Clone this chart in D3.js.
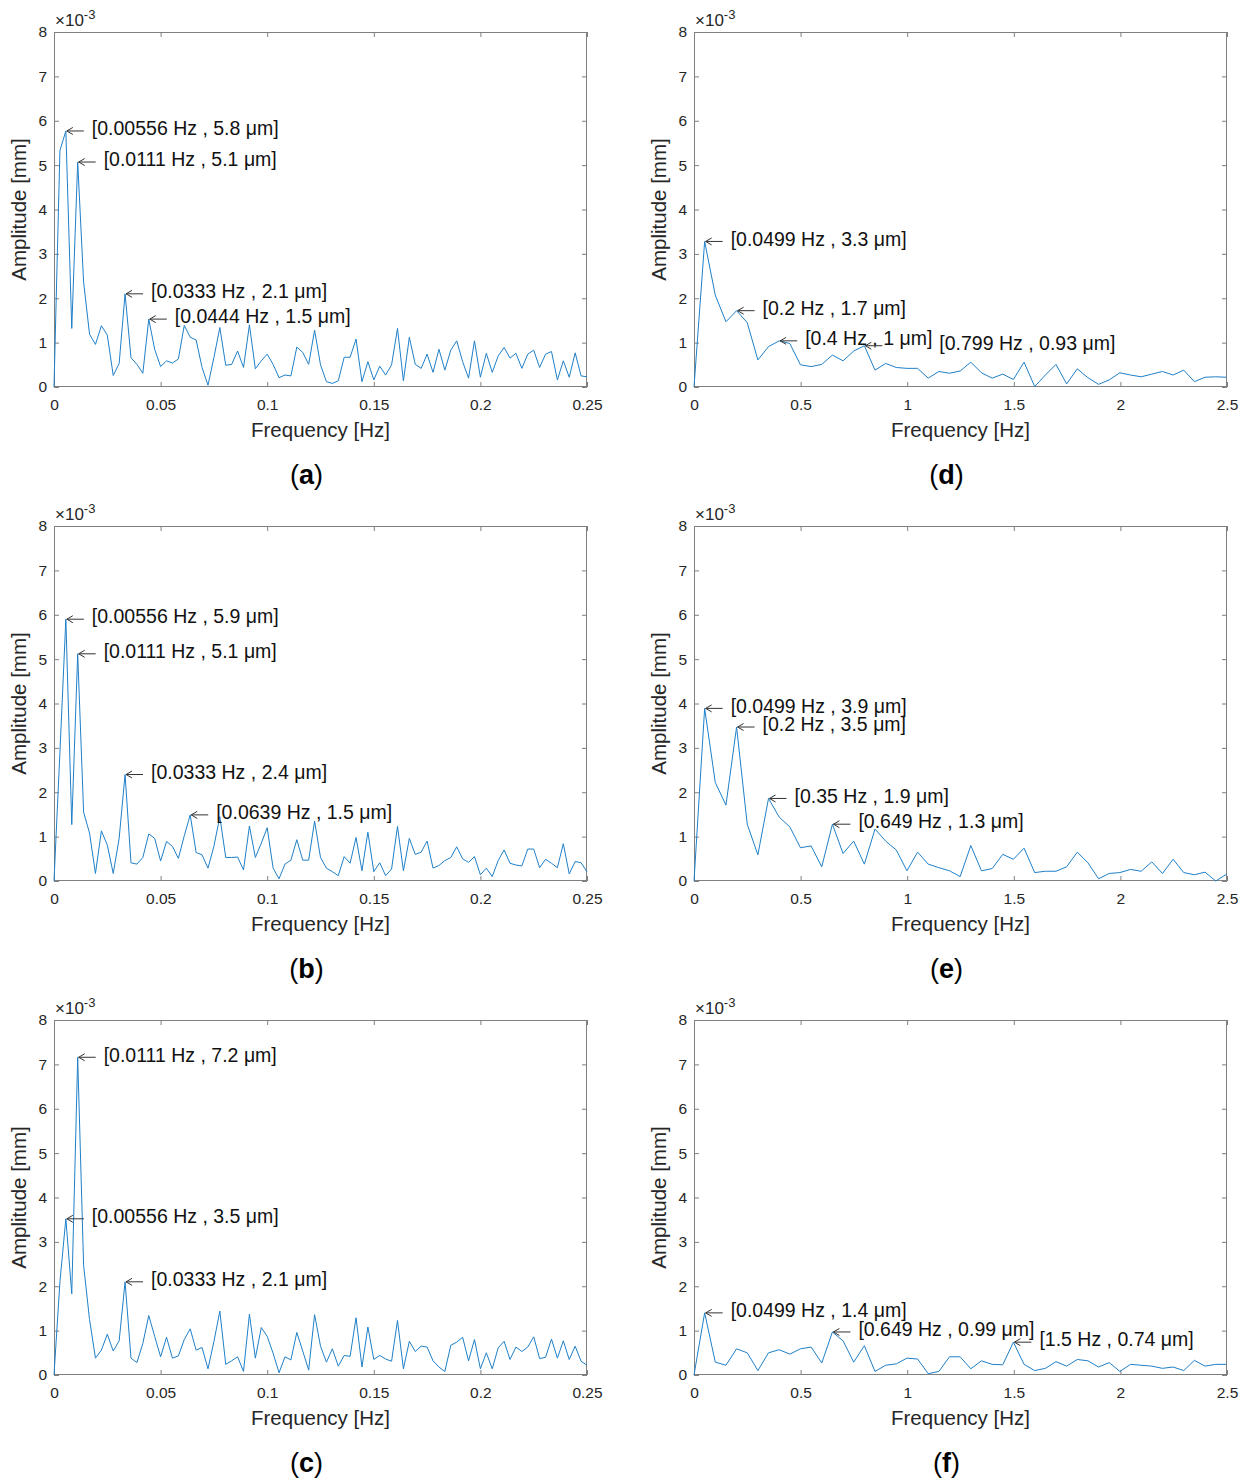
<!DOCTYPE html>
<html>
<head>
<meta charset="utf-8">
<style>
body { margin: 0; background-color: #FFFFFF; }
svg text { font-family: "Liberation Sans", Arial, sans-serif; }
.axis .domain { display: none; }
.axis line { stroke: #808080; }
.axis text { fill: #262626; font-size: 15.5px; }
</style>
</head>
<body>
<svg width="1246" height="1479"></svg>
<script src="https://d3js.org/d3.v7.min.js"></script>
<script>

// bin widths of the two spectra [Hz]
var dfSlow = 0.0027778,
    dfFast = 0.049938;

// amplitudes, in 1e-3 mm (i.e. um), one value per frequency bin
var ampA = [0, 5.33, 5.77, 1.32, 5.07, 2.36, 1.19, 0.96, 1.38, 1.17, 0.26, 0.53, 2.1, 0.66, 0.51, 0.31,
  1.53, 0.85, 0.46, 0.59, 0.54, 0.63, 1.39, 1.12, 1.06, 0.44, 0.04, 0.66, 1.34, 0.49, 0.51, 0.81,
  0.44, 1.40, 0.41, 0.59, 0.74, 0.51, 0.21, 0.27, 0.25, 0.9, 0.78, 0.51, 1.28, 0.5, 0.12, 0.08,
  0.14, 0.67, 0.67, 1.08, 0.12, 0.57, 0.16, 0.47, 0.27, 0.5, 1.32, 0.14, 1.12, 0.51, 0.42, 0.74,
  0.33, 0.85, 0.38, 0.83, 1.04, 0.57, 0.2, 1.04, 0.22, 0.76, 0.33, 0.7, 0.89, 0.65, 0.76, 0.42,
  0.74, 0.83, 0.44, 0.74, 0.8, 0.16, 0.59, 0.22, 0.77, 0.25, 0.23];

var ampB = [0, 2.9, 5.9, 1.27, 5.12, 1.55, 1.08, 0.17, 1.13, 0.81, 0.17, 0.96, 2.4, 0.41, 0.38, 0.53,
  1.06, 0.96, 0.45, 0.89, 0.78, 0.51, 1.02, 1.49, 0.64, 0.59, 0.29, 0.78, 1.45, 0.53, 0.53, 0.54,
  0.25, 1.24, 0.53, 0.85, 1.2, 0.29, 0.05, 0.38, 0.47, 0.93, 0.47, 0.47, 1.35, 0.53, 0.29, 0.21,
  0.12, 0.55, 0.4, 0.98, 0.23, 1.1, 0.21, 0.41, 0.12, 0.27, 1.23, 0.23, 0.96, 0.6, 0.65, 0.9,
  0.29, 0.35, 0.46, 0.53, 0.77, 0.5, 0.42, 0.55, 0.14, 0.29, 0.1, 0.46, 0.7, 0.4, 0.36, 0.34,
  0.72, 0.72, 0.3, 0.49, 0.4, 0.3, 0.84, 0.16, 0.44, 0.41, 0.21];

var ampC = [0, 2.1, 3.52, 1.83, 7.16, 2.47, 1.25, 0.38, 0.56, 0.92, 0.54, 0.77, 2.1, 0.38, 0.28, 0.71,
  1.34, 0.87, 0.41, 0.85, 0.38, 0.43, 0.8, 1.04, 0.56, 0.62, 0.14, 0.75, 1.44, 0.24, 0.32, 0.41,
  0.08, 1.37, 0.38, 1.07, 0.87, 0.49, 0.05, 0.41, 0.34, 0.96, 0.54, 0.11, 1.36, 0.65, 0.29, 0.59,
  0.2, 0.44, 0.42, 1.29, 0.18, 1.08, 0.35, 0.44, 0.36, 0.31, 1.23, 0.14, 0.76, 0.53, 0.65, 0.63,
  0.32, 0.18, 0.08, 0.67, 0.74, 0.85, 0.32, 0.8, 0.14, 0.5, 0.14, 0.61, 0.76, 0.35, 0.63, 0.53,
  0.63, 0.86, 0.37, 0.4, 0.81, 0.38, 0.77, 0.35, 0.65, 0.31, 0.22];

var ampD = [0, 3.28, 2.07, 1.47, 1.72, 1.45, 0.61, 0.91, 1.04, 0.98, 0.5, 0.46, 0.51, 0.72, 0.59, 0.81,
  0.93, 0.38, 0.53, 0.44, 0.42, 0.42, 0.2, 0.35, 0.31, 0.36, 0.56, 0.32, 0.2, 0.29, 0.17, 0.56,
  0.01, 0.27, 0.51, 0.07, 0.41, 0.21, 0.06, 0.16, 0.32, 0.27, 0.23, 0.29, 0.35, 0.27, 0.38, 0.12,
  0.22, 0.23, 0.22];

var ampE = [0, 3.89, 2.22, 1.71, 3.47, 1.28, 0.59, 1.86, 1.44, 1.22, 0.75, 0.79, 0.32, 1.28, 0.62, 0.9,
  0.38, 1.17, 0.9, 0.7, 0.23, 0.65, 0.38, 0.3, 0.23, 0.1, 0.8, 0.23, 0.28, 0.6, 0.49, 0.74,
  0.19, 0.22, 0.22, 0.32, 0.65, 0.41, 0.05, 0.17, 0.19, 0.26, 0.22, 0.43, 0.17, 0.49, 0.19, 0.14,
  0.2, 0.0, 0.15];

var ampF = [0, 1.4, 0.29, 0.22, 0.59, 0.5, 0.1, 0.5, 0.57, 0.47, 0.59, 0.63, 0.27, 0.97, 0.77, 0.29,
  0.66, 0.08, 0.22, 0.25, 0.38, 0.36, 0.03, 0.08, 0.41, 0.41, 0.14, 0.32, 0.24, 0.23, 0.74, 0.24,
  0.1, 0.15, 0.3, 0.2, 0.35, 0.32, 0.18, 0.28, 0.08, 0.24, 0.22, 0.2, 0.15, 0.18, 0.1, 0.33,
  0.2, 0.24, 0.24];

// tick labels
var xTicksSlow = [0, 0.05, 0.1, 0.15, 0.2, 0.25],
    xTicksFast = [0, 0.5, 1, 1.5, 2, 2.5],
    yTicks = [0, 1, 2, 3, 4, 5, 6, 7, 8];

// data tips: bin index + label
var notesA = [{i: 2, t: "[0.00556 Hz , 5.8 μm]"}, {i: 4, t: "[0.0111 Hz , 5.1 μm]"},
              {i: 12, t: "[0.0333 Hz , 2.1 μm]"}, {i: 16, t: "[0.0444 Hz , 1.5 μm]"}];
var notesB = [{i: 2, t: "[0.00556 Hz , 5.9 μm]"}, {i: 4, t: "[0.0111 Hz , 5.1 μm]"},
              {i: 12, t: "[0.0333 Hz , 2.4 μm]"}, {i: 23, t: "[0.0639 Hz , 1.5 μm]"}];
var notesC = [{i: 4, t: "[0.0111 Hz , 7.2 μm]"}, {i: 2, t: "[0.00556 Hz , 3.5 μm]"},
              {i: 12, t: "[0.0333 Hz , 2.1 μm]"}];
var notesD = [{i: 1, t: "[0.0499 Hz , 3.3 μm]"}, {i: 4, t: "[0.2 Hz , 1.7 μm]"},
              {i: 8, t: "[0.4 Hz , 1 μm]"}, {i: 16, t: "[0.799 Hz , 0.93 μm]"}];
var notesE = [{i: 1, t: "[0.0499 Hz , 3.9 μm]"}, {i: 4, t: "[0.2 Hz , 3.5 μm]"},
              {i: 7, t: "[0.35 Hz , 1.9 μm]"}, {i: 13, t: "[0.649 Hz , 1.3 μm]"}];
var notesF = [{i: 1, t: "[0.0499 Hz , 1.4 μm]"}, {i: 13, t: "[0.649 Hz , 0.99 μm]"},
              {i: 30, t: "[1.5 Hz , 0.74 μm]"}];

var svg = d3.select("svg"),
    width = 533,
    height = 355,
    colX = [54, 694],
    rowY = [32, 526, 1020];

var panels = [
  {id: "a", amp: ampA, df: dfSlow, ticks: xTicksSlow, notes: notesA, c: 0, r: 0},
  {id: "b", amp: ampB, df: dfSlow, ticks: xTicksSlow, notes: notesB, c: 0, r: 1},
  {id: "c", amp: ampC, df: dfSlow, ticks: xTicksSlow, notes: notesC, c: 0, r: 2},
  {id: "d", amp: ampD, df: dfFast, ticks: xTicksFast, notes: notesD, c: 1, r: 0},
  {id: "e", amp: ampE, df: dfFast, ticks: xTicksFast, notes: notesE, c: 1, r: 1},
  {id: "f", amp: ampF, df: dfFast, ticks: xTicksFast, notes: notesF, c: 1, r: 2}
];

// the 0.799 Hz tip in (d) sits further from its arrow
var extraGap = {"[0.799 Hz , 0.93 μm]": 49};

panels.forEach(function(p) {
  var g = svg.append("g").attr("transform", "translate(" + colX[p.c] + "," + rowY[p.r] + ")");

  var x = d3.scaleLinear().domain([0, p.ticks[p.ticks.length - 1]]).range([0, width]);
  var y = d3.scaleLinear().domain([0, 8]).range([height, 0]);
  var fmt = function(d) { return String(d); };

  g.append("g")
      .attr("class", "axis")
      .attr("transform", "translate(0," + height + ")")
      .call(d3.axisBottom(x).tickValues(p.ticks).tickFormat(fmt).tickSizeInner(-5).tickSizeOuter(0).tickPadding(12));

  g.append("g")
      .attr("class", "axis")
      .call(d3.axisTop(x).tickValues(p.ticks).tickFormat("").tickSizeInner(-5).tickSizeOuter(0));

  g.append("g")
      .attr("class", "axis")
      .call(d3.axisLeft(y).tickValues(yTicks).tickFormat(fmt).tickSizeInner(-5).tickSizeOuter(0).tickPadding(7));

  g.append("g")
      .attr("class", "axis")
      .attr("transform", "translate(" + width + ",0)")
      .call(d3.axisRight(y).tickValues(yTicks).tickFormat("").tickSizeInner(-5).tickSizeOuter(0));

  g.selectAll(".axis text").attr("font-family", "Liberation Sans, Arial, sans-serif");

  g.append("rect")
      .attr("x", 0.5)
      .attr("y", 0.5)
      .attr("width", width - 1)
      .attr("height", height - 1)
      .attr("fill", "none")
      .attr("stroke", "#808080");

  // spectrum
  var line = d3.line()
      .x(function(d, i) { return x(i * p.df); })
      .y(function(d) { return y(d); });

  g.append("path")
      .datum(p.amp)
      .attr("fill", "none")
      .attr("stroke", "#1f80c8")
      .attr("stroke-width", 1)
      .attr("stroke-linejoin", "round")
      .attr("d", line);

  // x10^-3 multiplier
  var mult = g.append("text")
      .attr("x", 1)
      .attr("y", -6)
      .attr("fill", "#262626")
      .attr("font-size", "17px");
  mult.append("tspan").text("×10");
  mult.append("tspan").attr("font-size", "13px").attr("dy", -7).text("-3");

  // axis titles
  g.append("text")
      .attr("transform", "translate(-28," + (height / 2) + ") rotate(-90)")
      .attr("text-anchor", "middle")
      .attr("fill", "#262626")
      .attr("font-size", "20.5px")
      .text("Amplitude [mm]");

  g.append("text")
      .attr("x", width / 2)
      .attr("y", height + 50)
      .attr("text-anchor", "middle")
      .attr("fill", "#262626")
      .attr("font-size", "20.5px")
      .text("Frequency [Hz]");

  // data tips
  p.notes.forEach(function(n) {
    var px = x(n.i * p.df), py = y(p.amp[n.i]);
    var tx = px + 1;
    g.append("path")
        .attr("d", "M" + tx + "," + py + "h17M" + (tx + 6) + "," + (py - 3.5) + "L" + tx + "," + py + "L" + (tx + 6) + "," + (py + 3.5))
        .attr("fill", "none")
        .attr("stroke", "#333")
        .attr("stroke-width", 1);
    g.append("text")
        .attr("x", px + 26 + (extraGap[n.t] || 0))
        .attr("y", py)
        .attr("dy", "0.22em")
        .attr("fill", "#111")
        .attr("font-size", "19.5px")
        .text(n.t);
  });

  // caption
  var cap = g.append("text")
      .attr("x", width / 2 - 14)
      .attr("y", height + 97)
      .attr("text-anchor", "middle")
      .attr("font-family", "Liberation Serif, Times New Roman, serif")
      .attr("font-size", "27px")
      .attr("fill", "#000");
  cap.append("tspan").text("(");
  cap.append("tspan").attr("font-weight", "bold").text(p.id);
  cap.append("tspan").text(")");
});

</script>
</body>
</html>
